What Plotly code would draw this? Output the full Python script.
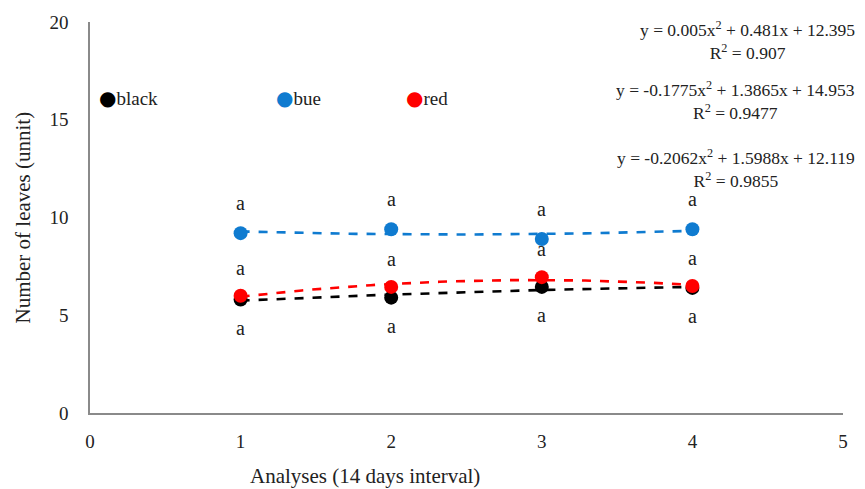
import numpy as np
import plotly.graph_objects as go

# Analyses (14-day intervals) and mean leaf counts per treatment
analyses = [1, 2, 3, 4]
black_vals = [5.8, 5.9, 6.45, 6.4]
blue_vals = [9.2, 9.4, 8.9, 9.4]
red_vals = [6.0, 6.45, 6.95, 6.5]

# Significance letters above/below each point
black_letters = ["a", "a", "a", "a"]
blue_letters = ["a", "a", "a", "a"]
red_letters = ["a", "a", "a", "a"]

series_names = ["black", "bue", "red"]
series_colors = ["#000000", "#0F7BD0", "#FF0000"]

# Trendline equations as reported
equations = [
    "y = 0.005x<sup>2</sup> + 0.481x + 12.395<br>R<sup>2</sup> = 0.907",
    "y = -0.1775x<sup>2</sup> + 1.3865x + 14.953<br>R<sup>2</sup> = 0.9477",
    "y = -0.2062x<sup>2</sup> + 1.5988x + 12.119<br>R<sup>2</sup> = 0.9855",
]

FONT = "Liberation Serif"
TEXT_COLOR = "#222222"
AXIS_COLOR = "#8a8a8a"

fig = go.Figure()

all_vals = [black_vals, blue_vals, red_vals]

# Dashed second-order polynomial trendlines fitted to each series
xs = np.linspace(min(analyses), max(analyses), 60)
for vals, color in zip(all_vals, series_colors):
    coef = np.polyfit(analyses, vals, 2)
    fig.add_trace(go.Scatter(
        x=xs, y=np.polyval(coef, xs), mode="lines",
        line=dict(color=color, width=2.6, dash="dash"),
        showlegend=False, hoverinfo="skip",
    ))

# Data points
for vals, color, name in zip(all_vals, series_colors, series_names):
    fig.add_trace(go.Scatter(
        x=analyses, y=vals, mode="markers", name=name,
        marker=dict(color=color, size=14),
        showlegend=False,
    ))

annotations = []

# Letters: blue and red above their points, black below
letter_sets = [
    (blue_vals, blue_letters, 30),
    (red_vals, red_letters, 28),
    (black_vals, black_letters, -28),
]
for vals, letters, shift in letter_sets:
    for x, y, t in zip(analyses, vals, letters):
        annotations.append(dict(
            x=x, y=y, xref="x", yref="y", text=t, showarrow=False,
            yshift=shift, font=dict(family=FONT, size=20, color=TEXT_COLOR),
        ))

# Legend row inside the plot
legend_x = [0.047, 1.222, 2.085]
for lx, name, color in zip(legend_x, series_names, series_colors):
    annotations.append(dict(
        x=lx, y=16.1, xref="x", yref="y", xanchor="left", showarrow=False,
        text=(f'<span style="color:{color};font-family:DejaVu Sans;'
              f'font-size:20px">●</span>{name}'),
        font=dict(family=FONT, size=19, color=TEXT_COLOR),
    ))

# Trendline equations at the upper right
eq_y = [41, 100, 168]
for eq, py in zip(equations, eq_y):
    annotations.append(dict(
        x=1.0186, y=1 - (py - 22) / 391, xref="paper", yref="paper",
        xanchor="right", yanchor="middle", align="center", showarrow=False,
        text=eq, font=dict(family=FONT, size=17.5, color=TEXT_COLOR),
    ))

# Axis titles
annotations.append(dict(
    x=(365 - 90) / 753, y=(413 - 476) / 391, xref="paper", yref="paper",
    text="Analyses (14 days interval)", showarrow=False,
    xanchor="center", yanchor="middle",
    font=dict(family=FONT, size=21, color=TEXT_COLOR),
))
annotations.append(dict(
    x=(22 - 90) / 753, y=0.5, xref="paper", yref="paper",
    text="Number of leaves (unnit)", showarrow=False, textangle=-90,
    xanchor="center", yanchor="middle",
    font=dict(family=FONT, size=21, color=TEXT_COLOR),
))

fig.update_layout(
    width=865, height=489,
    margin=dict(l=90, r=22, t=22, b=76),
    paper_bgcolor="white", plot_bgcolor="white",
    font=dict(family=FONT, size=19, color=TEXT_COLOR),
    annotations=annotations,
    showlegend=False,
)
fig.update_xaxes(
    range=[0, 5], dtick=1, tick0=0, showgrid=False, zeroline=False,
    showline=True, linecolor=AXIS_COLOR, linewidth=1.6,
    ticks="", ticklabelstandoff=10,
    tickfont=dict(family=FONT, size=19, color=TEXT_COLOR),
)
fig.update_yaxes(
    range=[0, 20], dtick=5, tick0=0, showgrid=False, zeroline=False,
    showline=True, linecolor=AXIS_COLOR, linewidth=1.6,
    ticks="", ticklabelstandoff=16,
    tickfont=dict(family=FONT, size=19, color=TEXT_COLOR),
)

fig.write_html("out.html")
